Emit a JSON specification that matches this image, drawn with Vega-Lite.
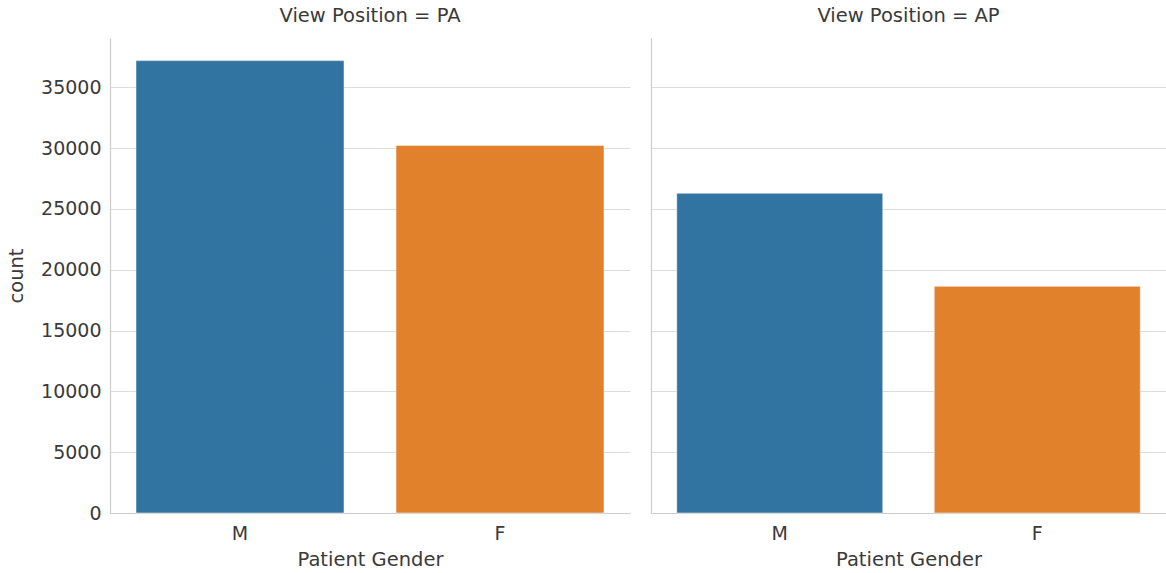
{
  "$schema": "https://vega.github.io/schema/vega-lite/v6.json",
  "padding": {"left": 6, "top": 5, "right": 0, "bottom": 0},
  "background": "white",
  "config": {
    "view": {"stroke": null},
    "font": "DejaVu Sans",
    "concat": {"spacing": 21},
    "axis": {
      "domainColor": "#cccccc",
      "domainWidth": 1.2,
      "gridColor": "#dcdcdc",
      "gridWidth": 1.2,
      "ticks": false,
      "labelColor": "#3a3a3a",
      "labelFontSize": 19,
      "titleColor": "#3a3a3a",
      "titleFontSize": 19.5,
      "titleFontWeight": "normal",
      "labelPadding": 9
    },
    "title": {"fontSize": 19.5, "fontWeight": "normal", "color": "#3a3a3a", "offset": 12}
  },
  "data": {"values": [
    {"view": "PA", "gender": "M", "count": 37200},
    {"view": "PA", "gender": "F", "count": 30230},
    {"view": "AP", "gender": "M", "count": 26290},
    {"view": "AP", "gender": "F", "count": 18640}
  ]},
  "hconcat": [
    {
      "title": "View Position = PA",
      "width": 520,
      "height": 475,
      "transform": [{"filter": "datum.view === 'PA'"}],
      "mark": {"type": "bar", "stroke": "white", "strokeWidth": 0.5},
      "encoding": {
        "x": {"field": "gender", "type": "nominal", "sort": ["M", "F"],
              "scale": {"paddingInner": 0.2, "paddingOuter": 0.1},
              "axis": {"title": "Patient Gender", "labelAngle": 0, "grid": false, "labelPadding": 11, "titlePadding": 7}},
        "y": {"field": "count", "type": "quantitative",
              "scale": {"domain": [0, 39060], "nice": false},
              "axis": {"title": "count", "values": [0, 5000, 10000, 15000, 20000, 25000, 30000, 35000], "format": "d", "grid": true, "titlePadding": 14}},
        "color": {"field": "gender", "type": "nominal",
                  "scale": {"domain": ["M", "F"], "range": ["#3274a1", "#e1812c"]}, "legend": null}
      }
    },
    {
      "title": "View Position = AP",
      "width": 515,
      "height": 475,
      "transform": [{"filter": "datum.view === 'AP'"}],
      "mark": {"type": "bar", "stroke": "white", "strokeWidth": 0.5},
      "encoding": {
        "x": {"field": "gender", "type": "nominal", "sort": ["M", "F"],
              "scale": {"paddingInner": 0.2, "paddingOuter": 0.1},
              "axis": {"title": "Patient Gender", "labelAngle": 0, "grid": false, "labelPadding": 11, "titlePadding": 7}},
        "y": {"field": "count", "type": "quantitative",
              "scale": {"domain": [0, 39060], "nice": false},
              "axis": {"title": null, "labels": false, "values": [0, 5000, 10000, 15000, 20000, 25000, 30000, 35000], "grid": true}},
        "color": {"field": "gender", "type": "nominal",
                  "scale": {"domain": ["M", "F"], "range": ["#3274a1", "#e1812c"]}, "legend": null}
      }
    }
  ]
}
